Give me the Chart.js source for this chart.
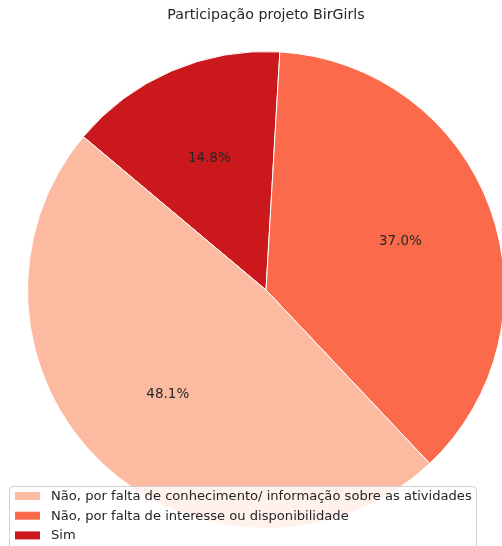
<!DOCTYPE html>
<html>
<head>
<meta charset="utf-8">
<script src="https://cdn.jsdelivr.net/npm/chart.js@4"></script>
<style>
  html, body { margin: 0; padding: 0; background: #fff; overflow: hidden; }
  #wrap { position: absolute; left: 0; top: 0; width: 520px; height: 546px; }
</style>
</head>
<body>
<div id="wrap"><canvas id="c"></canvas></div>
<script>
// Respostas sobre a participação no projeto BirGirls
const title = 'Participação projeto BirGirls';
const categories = [
  'Não, por falta de conhecimento/ informação sobre as atividades',
  'Não, por falta de interesse ou disponibilidade',
  'Sim'
];
const counts = [13, 10, 4];
const colors = ['#fcbba1', '#fb6a4a', '#cb181d'];

const total = counts.reduce((a, b) => a + b, 0);

// Slices go counter-clockwise from 140°, so feed them to Chart.js (clockwise) reversed
const order = categories.map((_, i) => i).reverse();

const pctLabels = {
  id: 'pctLabels',
  afterDatasetsDraw(chart) {
    const ctx = chart.ctx;
    const meta = chart.getDatasetMeta(0);
    ctx.save();
    ctx.font = '13.5px "DejaVu Sans"';
    ctx.fillStyle = '#262626';
    ctx.textAlign = 'center';
    ctx.textBaseline = 'middle';
    meta.data.forEach((arc, i) => {
      const p = arc.getProps(['x', 'y', 'startAngle', 'endAngle', 'outerRadius'], true);
      const mid = (p.startAngle + p.endAngle) / 2;
      const r = p.outerRadius * 0.6;
      const v = chart.data.datasets[0].data[i];
      ctx.fillText((v / total * 100).toFixed(1) + '%', p.x + Math.cos(mid) * r, p.y + Math.sin(mid) * r);
    });
    ctx.restore();
  }
};

const titleAndLegend = {
  id: 'titleAndLegend',
  afterDraw(chart) {
    const ctx = chart.ctx;
    ctx.save();
    ctx.font = '14.2px "DejaVu Sans"';
    ctx.fillStyle = '#262626';
    ctx.textAlign = 'center';
    ctx.textBaseline = 'middle';
    ctx.fillText(title, 266, 15);

    // legend box
    const bx = 9.5, by = 486.5, bw = 467, bh = 80, rad = 4;
    ctx.beginPath();
    ctx.moveTo(bx + rad, by);
    ctx.lineTo(bx + bw - rad, by);
    ctx.quadraticCurveTo(bx + bw, by, bx + bw, by + rad);
    ctx.lineTo(bx + bw, by + bh);
    ctx.lineTo(bx, by + bh);
    ctx.lineTo(bx, by + rad);
    ctx.quadraticCurveTo(bx, by, bx + rad, by);
    ctx.closePath();
    ctx.fillStyle = 'rgba(255,255,255,0.8)';
    ctx.fill();
    ctx.strokeStyle = '#d0d0d0';
    ctx.lineWidth = 1;
    ctx.stroke();

    ctx.font = '13.1px "DejaVu Sans"';
    ctx.textAlign = 'left';
    categories.forEach((lab, i) => {
      const cy = 496 + i * 19.7;
      ctx.fillStyle = colors[i];
      ctx.fillRect(15, cy - 4, 25, 8);
      ctx.fillStyle = '#262626';
      ctx.fillText(lab, 51, cy + 0.5);
    });
    ctx.restore();
  }
};

new Chart(document.getElementById('c'), {
  type: 'pie',
  data: {
    labels: order.map(i => categories[i]),
    datasets: [{
      data: order.map(i => counts[i]),
      backgroundColor: order.map(i => colors[i]),
      borderColor: '#ffffff',
      borderWidth: 1,
      hoverOffset: 0
    }]
  },
  options: {
    responsive: true,
    maintainAspectRatio: false,
    animation: false,
    rotation: -50,
    layout: { padding: { left: 27, top: 51, right: 15, bottom: 17 } },
    plugins: {
      legend: { display: false },
      tooltip: { enabled: false },
      title: { display: false }
    }
  },
  plugins: [pctLabels, titleAndLegend]
});
</script>
</body>
</html>
